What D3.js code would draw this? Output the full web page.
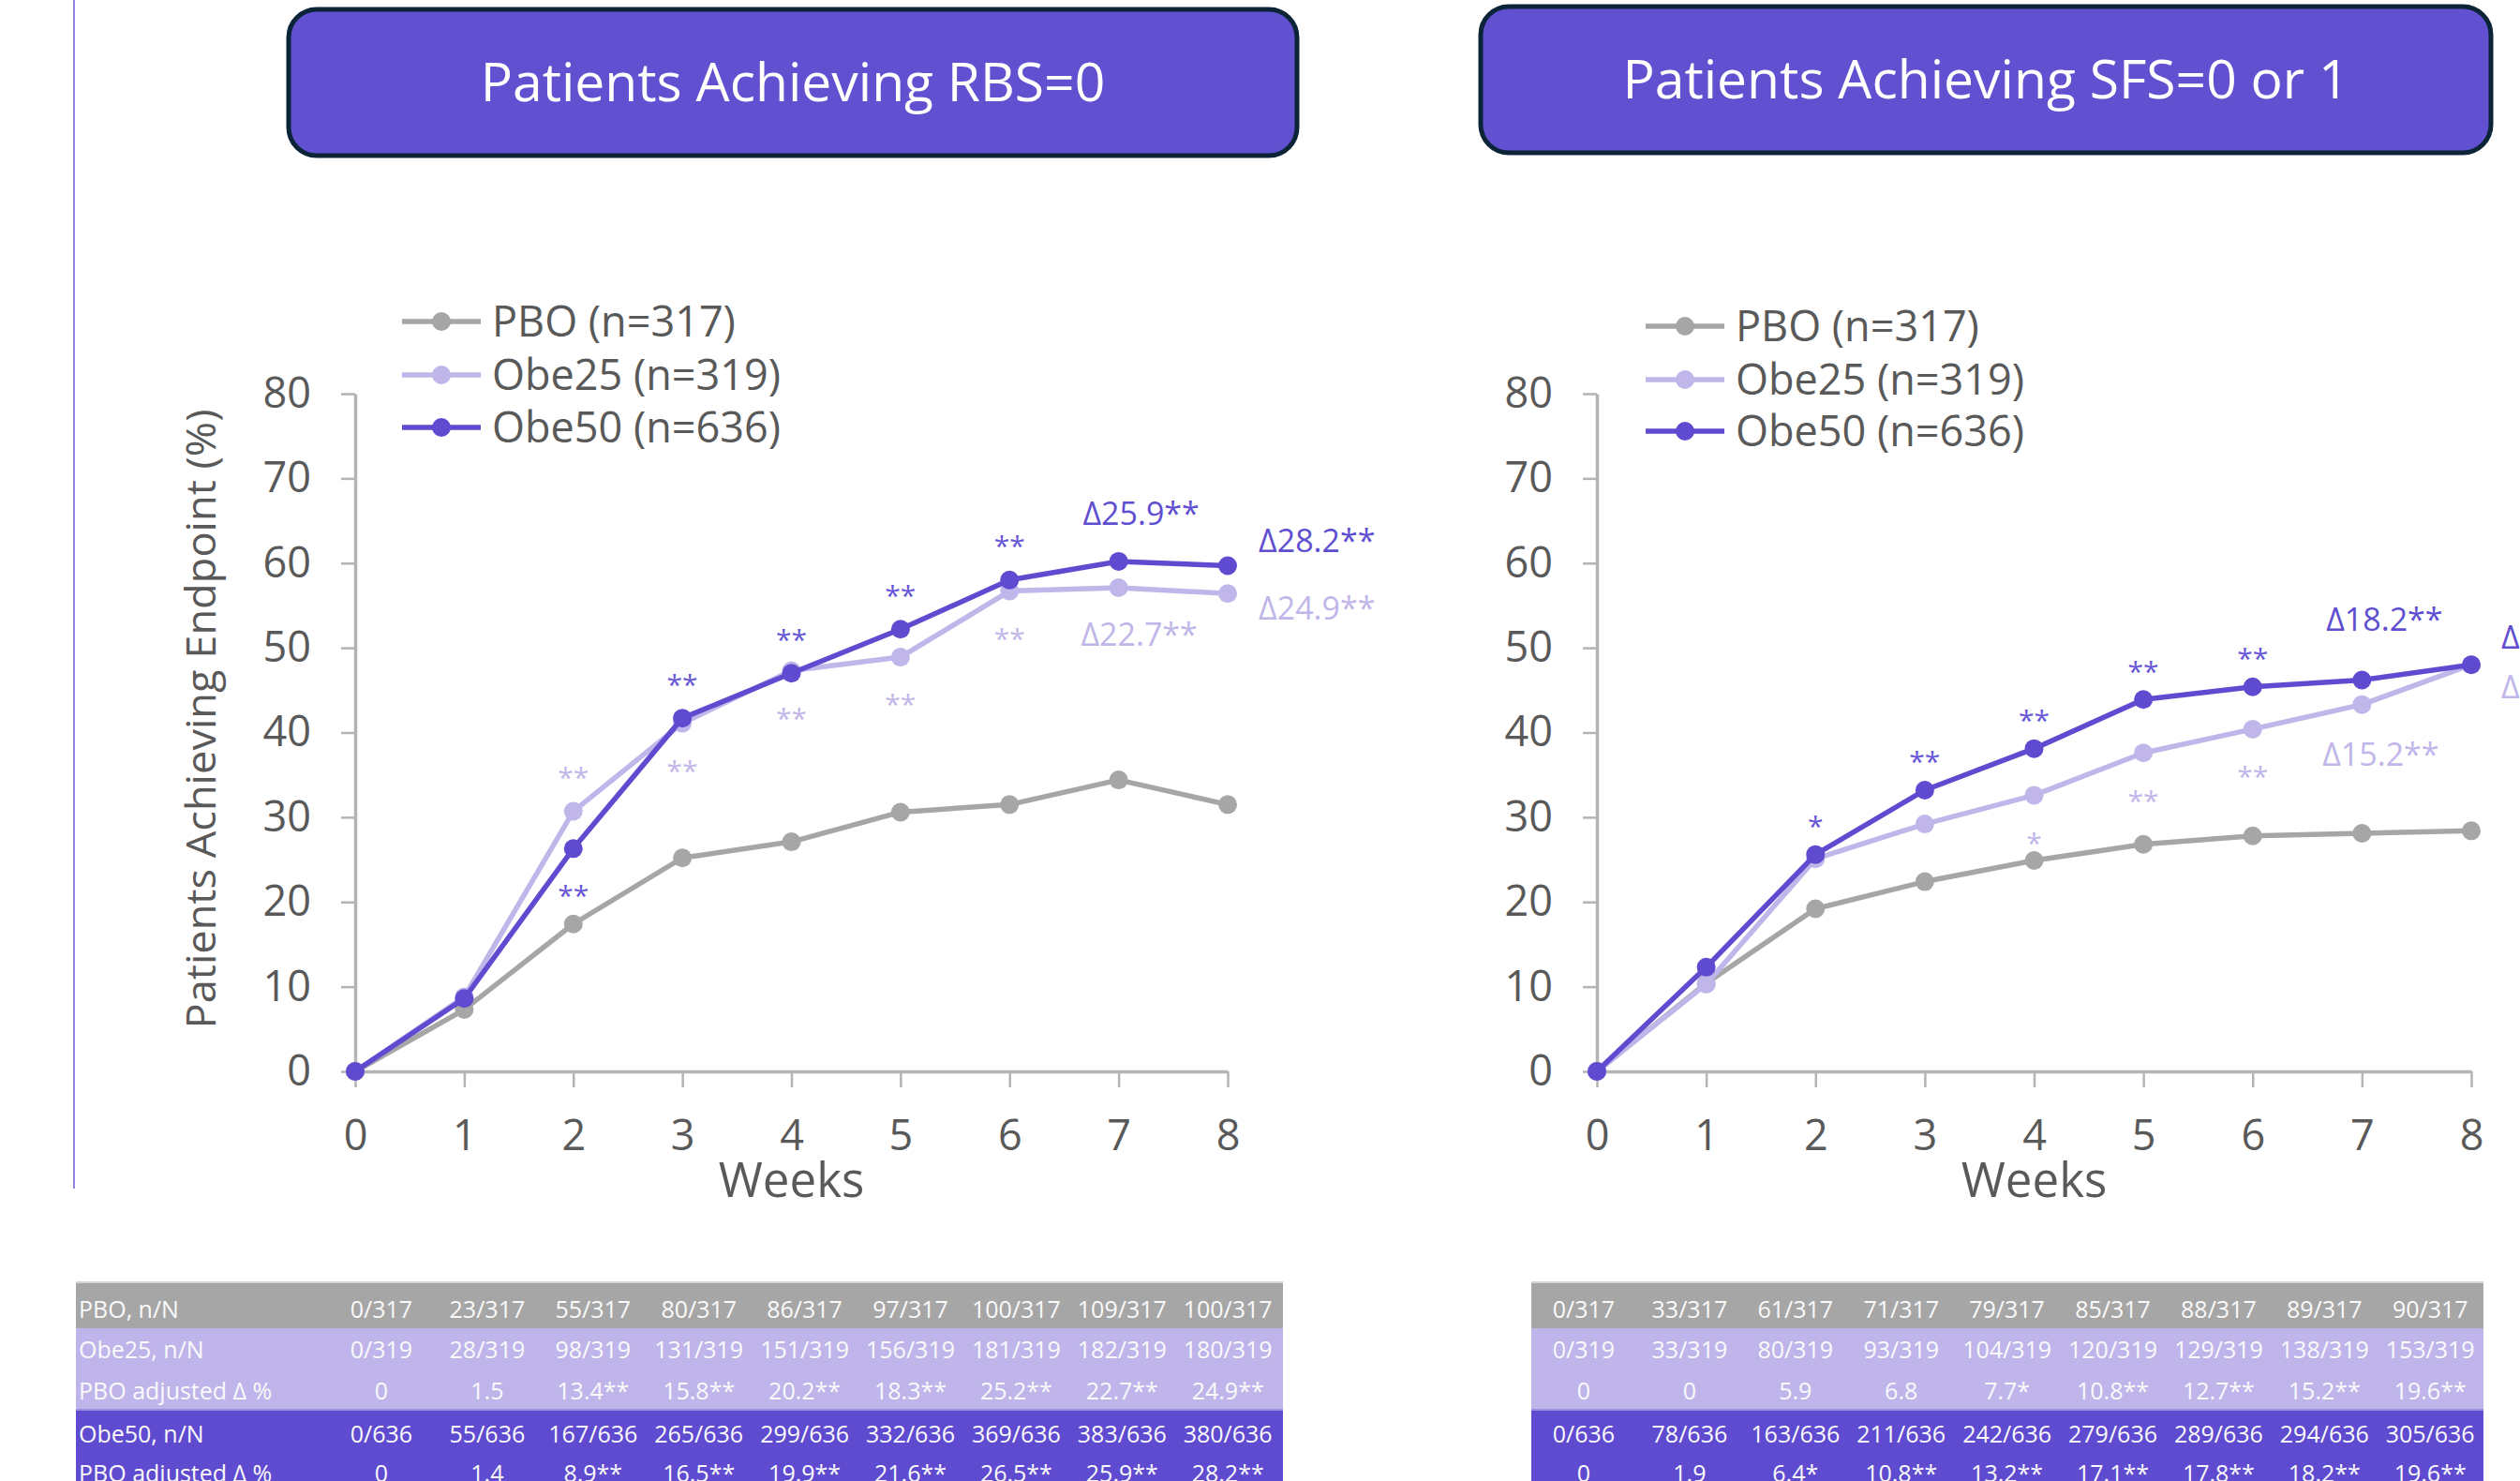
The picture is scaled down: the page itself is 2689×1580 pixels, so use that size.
<!DOCTYPE html>
<html><head><meta charset="utf-8">
<script src="https://cdn.jsdelivr.net/npm/d3@7"></script>
<style>
body{margin:0;background:#fff;}
svg{display:block;}
text{font-family:"Open Sans",sans-serif;}
</style></head><body>
<svg id="c" width="2689" height="1580"></svg>
<script>
// ---------------- data ----------------
const weeks = [0,1,2,3,4,5,6,7,8];
const yTicks = [0,10,20,30,40,50,60,70,80];
const seriesNames = ["PBO (n=317)","Obe25 (n=319)","Obe50 (n=636)"];
const chartTitles = ["Patients Achieving RBS=0","Patients Achieving SFS=0 or 1"];
const yTitle = "Patients Achieving Endpoint (%)";
const xTitle = "Weeks";

// RBS=0 (% of patients)
const rbsPbo   = [0, 7.3, 17.4, 25.2, 27.1, 30.6, 31.5, 34.4, 31.5];
const rbsObe25 = [0, 8.8, 30.7, 41.1, 47.3, 48.9, 56.7, 57.1, 56.4];
const rbsObe50 = [0, 8.6, 26.3, 41.7, 47.0, 52.2, 58.0, 60.2, 59.7];
// SFS=0 or 1 (% of patients)
const sfsPbo   = [0, 10.4, 19.2, 22.4, 24.9, 26.8, 27.8, 28.1, 28.4];
const sfsObe25 = [0, 10.3, 25.1, 29.2, 32.6, 37.6, 40.4, 43.3, 48.0];
const sfsObe50 = [0, 12.3, 25.6, 33.2, 38.1, 43.9, 45.4, 46.2, 48.0];

// tables
const tableLabels = ["PBO, n/N","Obe25, n/N","PBO adjusted \u0394 %","Obe50, n/N","PBO adjusted \u0394 %"];
const rbsPboNN   = ["0/317","23/317","55/317","80/317","86/317","97/317","100/317","109/317","100/317"];
const rbsObe25NN = ["0/319","28/319","98/319","131/319","151/319","156/319","181/319","182/319","180/319"];
const rbsObe25Adj= ["0","1.5","13.4**","15.8**","20.2**","18.3**","25.2**","22.7**","24.9**"];
const rbsObe50NN = ["0/636","55/636","167/636","265/636","299/636","332/636","369/636","383/636","380/636"];
const rbsObe50Adj= ["0","1.4","8.9**","16.5**","19.9**","21.6**","26.5**","25.9**","28.2**"];
const sfsPboNN   = ["0/317","33/317","61/317","71/317","79/317","85/317","88/317","89/317","90/317"];
const sfsObe25NN = ["0/319","33/319","80/319","93/319","104/319","120/319","129/319","138/319","153/319"];
const sfsObe25Adj= ["0","0","5.9","6.8","7.7*","10.8**","12.7**","15.2**","19.6**"];
const sfsObe50NN = ["0/636","78/636","163/636","211/636","242/636","279/636","289/636","294/636","305/636"];
const sfsObe50Adj= ["0","1.9","6.4*","10.8**","13.2**","17.1**","17.8**","18.2**","19.6**"];

// ---------------- styles ----------------
const C_PBO = "#a6a6a6", C_25 = "#c0b6ea", C_50 = "#5f4bcf";
const C_TXT = "#595959", C_AX = "#b4b4b4";
const svg = d3.select("#c");

// thin vertical rule on the left
svg.append("line").attr("x1",79).attr("x2",79).attr("y1",0).attr("y2",1268)
  .attr("stroke","#6c5cd8").attr("stroke-width",1.5);

function starsOf(s){ const m = s.match(/\*+$/); return m ? m[0] : ""; }

function drawChart(cfg){
  const g = svg.append("g");
  const x = d3.scaleLinear().domain([0,8]).range([cfg.x0, cfg.x1]);
  const y = d3.scaleLinear().domain([0,80]).range([1143, 420]);

  // title box
  g.append("rect").attr("x",cfg.bx).attr("y",cfg.by).attr("width",cfg.bw).attr("height",cfg.bh)
    .attr("rx",30).attr("fill","#6150d0").attr("stroke","#0c2437").attr("stroke-width",5);
  g.append("text").attr("x",cfg.bx+cfg.bw/2).attr("y",cfg.by+98).attr("text-anchor","middle")
    .attr("fill","#fff").attr("font-size",57).text(cfg.title);

  // axes
  const ya = g.append("g").attr("transform",`translate(${cfg.x0},0)`)
    .call(d3.axisLeft(y).tickValues(yTicks).tickSize(15).tickSizeOuter(0).tickPadding(32));
  const xa = g.append("g").attr("transform",`translate(0,1143)`)
    .call(d3.axisBottom(x).tickValues(weeks).tickSize(17).tickSizeOuter(0).tickPadding(34));
  [ya,xa].forEach(a=>{
    a.select(".domain").attr("stroke",C_AX).attr("stroke-width",3.5);
    a.selectAll(".tick line").attr("stroke",C_AX).attr("stroke-width",2.5);
    a.selectAll(".tick text").attr("fill",C_TXT).attr("font-size",45).attr("font-family","Open Sans");
  });
  xa.selectAll(".tick text").attr("dy","0.73em");
  g.append("text").attr("x",(cfg.x0+cfg.x1)/2).attr("y",1277).attr("text-anchor","middle")
    .attr("fill",C_TXT).attr("font-size",51).text(xTitle);
  if(cfg.yTitle){
    g.append("text").attr("transform",`translate(230,767) rotate(-90)`).attr("text-anchor","middle")
      .attr("fill",C_TXT).attr("font-size",44).attr("font-family","DejaVu Sans")
      .attr("textLength",661).attr("lengthAdjust","spacingAndGlyphs").text(yTitle);
  }

  // series
  const series = [
    {vals:cfg.pbo, c:C_PBO},
    {vals:cfg.o25, c:C_25},
    {vals:cfg.o50, c:C_50}
  ];
  const line = d3.line().x((d,i)=>x(weeks[i])).y(d=>y(d));
  series.forEach(s=>{
    g.append("path").datum(s.vals).attr("d",line).attr("fill","none")
      .attr("stroke",s.c).attr("stroke-width",5.5).attr("stroke-linejoin","round");
    g.selectAll(null).data(s.vals).enter().append("circle")
      .attr("cx",(d,i)=>x(weeks[i])).attr("cy",d=>y(d)).attr("r",10).attr("fill",s.c);
  });

  // legend
  const lg = g.append("g");
  seriesNames.forEach((n,i)=>{
    const ly = cfg.ly[i], c = series[i].c;
    lg.append("line").attr("x1",cfg.lx).attr("x2",cfg.lx+84).attr("y1",ly).attr("y2",ly)
      .attr("stroke",c).attr("stroke-width",5.5);
    lg.append("circle").attr("cx",cfg.lx+42).attr("cy",ly).attr("r",10).attr("fill",c);
    lg.append("text").attr("x",cfg.lx+96).attr("y",ly+16).attr("fill",C_TXT)
      .attr("font-size",45).text(n);
  });

  // significance stars weeks 2..6
  const starFs = 30;
  const addStars = (adj, vals, color, offFn) => {
    adj.forEach((s,i)=>{
      if(i<2 || i>6) return;
      const st = starsOf(s); if(!st) return;
      const cy = y(vals[i]) + offFn(i);
      g.append("text").attr("x",x(weeks[i])).attr("y",cy+starFs*0.58)
        .attr("text-anchor","middle").attr("fill",color).attr("font-size",starFs).text(st);
    });
  };
  addStars(cfg.adj25, cfg.o25, C_25, cfg.off25);
  addStars(cfg.adj50, cfg.o50, "#6655d6", cfg.off50);

  // delta labels weeks 7 and 8
  const dFs = 34;
  const dl = (i, vals, adj, color, dx, dy, anchor) => {
    g.append("text").attr("x",x(weeks[i])+dx).attr("y",y(vals[i])+dy+dFs*0.36)
      .attr("text-anchor",anchor).attr("fill",color).attr("font-size",dFs)
      .text("\u0394"+adj[i]);
  };
  dl(7, cfg.o50, cfg.adj50, "#5f4fd0", cfg.d7[0], cfg.d7[1], "middle");
  dl(7, cfg.o25, cfg.adj25, C_25, cfg.d7[2], cfg.d7[3], "middle");
  dl(8, cfg.o50, cfg.adj50, "#5f4fd0", cfg.d8[0], cfg.d8[1], "start");
  dl(8, cfg.o25, cfg.adj25, C_25, cfg.d8[2], cfg.d8[3], "start");

  // table
  const tb = g.append("g");
  const rows = [
    {y0:1369, y1:1417, fill:"#a6a6a6"},
    {y0:1417, y1:1504, fill:"#bfb5ea"},
    {y0:1504, y1:1600, fill:"#5f4bd0"}
  ];
  rows.forEach(r=>tb.append("rect").attr("x",cfg.tx0).attr("y",r.y0)
    .attr("width",cfg.tx1-cfg.tx0).attr("height",r.y1-r.y0).attr("fill",r.fill));
  tb.append("line").attr("x1",cfg.tx0).attr("x2",cfg.tx1).attr("y1",1368).attr("y2",1368)
    .attr("stroke","#d4d4d4").attr("stroke-width",2);
  tb.append("line").attr("x1",cfg.tx0).attr("x2",cfg.tx1).attr("y1",1504).attr("y2",1504)
    .attr("stroke","#9a8fe2").attr("stroke-width",2);
  const rowY = [1397, 1440, 1484, 1530, 1572];
  const rowData = [cfg.pboNN, cfg.o25NN, cfg.adj25, cfg.o50NN, cfg.adj50];
  const tFs = 25;
  rowData.forEach((arr,ri)=>{
    if(cfg.labels){
      tb.append("text").attr("x",cfg.tx0+3).attr("y",rowY[ri]+tFs*0.36).attr("fill","#fafafa")
        .attr("font-size",tFs).text(tableLabels[ri]);
    }
    arr.forEach((v,ci)=>{
      tb.append("text").attr("x",cfg.c0+ci*112.9).attr("y",rowY[ri]+tFs*0.36)
        .attr("text-anchor","middle").attr("fill","#fafafa").attr("font-size",tFs).text(v);
    });
  });
}

drawChart({
  title:chartTitles[0], bx:308, by:10, bw:1076, bh:156,
  x0:379, x1:1310, yTitle:true,
  pbo:rbsPbo, o25:rbsObe25, o50:rbsObe50,
  adj25:rbsObe25Adj, adj50:rbsObe50Adj,
  off25:i=> i===2 ? -43 : 44,
  off50:i=> i===2 ? 43 : -43,
  d7:[24,-51,22,50], d8:[33,-27,33,15],
  lx:429, ly:[343,400,456],
  tx0:81, tx1:1369, c0:407, labels:true,
  pboNN:rbsPboNN, o25NN:rbsObe25NN, o50NN:rbsObe50NN
});
drawChart({
  title:chartTitles[1], bx:1580, by:7, bw:1078, bh:156,
  x0:1704, x1:2637, yTitle:false,
  pbo:sfsPbo, o25:sfsObe25, o50:sfsObe50,
  adj25:sfsObe25Adj, adj50:sfsObe50Adj,
  off25:i=> 44,
  off50:i=> -37,
  d7:[24,-65,20,53], d8:[32,-29,32,24],
  lx:1756, ly:[348,405,460],
  tx0:1634, tx1:2650, c0:1690, labels:false,
  pboNN:sfsPboNN, o25NN:sfsObe25NN, o50NN:sfsObe50NN
});
</script>
</body></html>
